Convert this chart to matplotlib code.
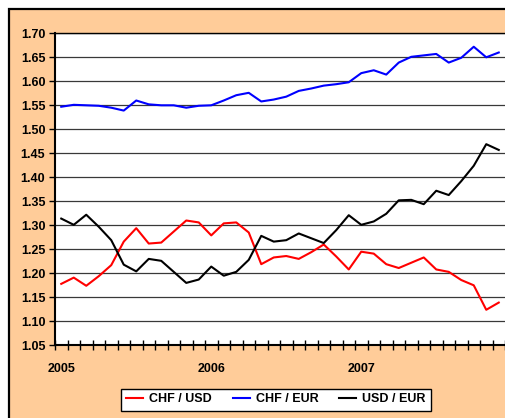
import numpy as np
import matplotlib
matplotlib.use('Agg')
import matplotlib.pyplot as plt
from matplotlib.patches import Rectangle

plt.rcParams['font.family'] = ['Liberation Sans', 'DejaVu Sans']
plt.rcParams['font.weight'] = 'bold'

# monthly values, Jan 2005 .. Dec 2007
months = [f"{y}-{m:02d}" for y in (2005, 2006, 2007) for m in range(1, 13)]
year_labels = ['2005', '2006', '2007']

chf_usd = [1.178, 1.191, 1.174, 1.194, 1.217, 1.266, 1.294, 1.262, 1.264, 1.287, 1.310, 1.306,
           1.279, 1.304, 1.306, 1.285, 1.219, 1.233, 1.236, 1.230, 1.244, 1.260, 1.235, 1.208,
           1.245, 1.241, 1.219, 1.211, 1.222, 1.233, 1.208, 1.203, 1.186, 1.175, 1.124, 1.139]
chf_eur = [1.547, 1.551, 1.550, 1.549, 1.545, 1.539, 1.560, 1.552, 1.550, 1.550, 1.545, 1.549,
           1.550, 1.560, 1.571, 1.576, 1.558, 1.562, 1.568, 1.580, 1.585, 1.591, 1.594, 1.598,
           1.617, 1.623, 1.614, 1.639, 1.651, 1.654, 1.657, 1.639, 1.649, 1.672, 1.650, 1.660]
usd_eur = [1.314, 1.301, 1.322, 1.297, 1.269, 1.218, 1.204, 1.230, 1.226, 1.203, 1.180, 1.187,
           1.214, 1.195, 1.203, 1.228, 1.278, 1.266, 1.269, 1.283, 1.273, 1.263, 1.290, 1.321,
           1.301, 1.308, 1.324, 1.352, 1.353, 1.344, 1.372, 1.363, 1.392, 1.424, 1.469, 1.457]

W, H = 505, 418
fig = plt.figure(figsize=(W / 100, H / 100), dpi=100)
fig.patch.set_facecolor('white')

# peach chart area with black frame (cut off at right and bottom)
bg_ax = fig.add_axes([0, 0, 1, 1], zorder=0)
bg_ax.set_axis_off()
bg_ax.add_patch(Rectangle((9 / W, -0.05), 1.2, (H - 9) / H + 0.05, transform=fig.transFigure,
                          facecolor='#FFCC99', edgecolor='black', linewidth=1.6))

ax = fig.add_axes([55 / W, (H - 345.3) / H, 450 / W, 312 / H], zorder=2)
ax.set_facecolor('white')

x = np.arange(len(months))
ax.plot(x, chf_usd, color='#FF0000', lw=1.5, label='CHF / USD', zorder=3)
ax.plot(x, chf_eur, color='#0000FF', lw=1.5, label='CHF / EUR', zorder=3)
ax.plot(x, usd_eur, color='black', lw=1.5, label='USD / EUR', zorder=3)

ax.set_xlim(-0.5, len(months) - 0.5)
ax.set_ylim(1.05, 1.70)
yt = np.round(np.arange(1.05, 1.7001, 0.05), 2)
ax.set_yticks(yt)
ax.set_yticklabels([f"{v:.2f}" for v in yt], fontsize=9, fontweight='bold')
ax.grid(axis='y', color='#383838', lw=0.9, zorder=1)

ax.set_xticks([0, 12, 24])
ax.set_xticklabels(year_labels, fontsize=9, fontweight='bold')
ax.tick_params(axis='x', which='major', length=0, pad=13)
ax.set_xticks(np.arange(-0.5, len(months), 1), minor=True)
ax.tick_params(axis='x', which='minor', direction='inout', length=7, width=1, color='black')
ax.tick_params(axis='y', direction='out', length=4, width=1, pad=3)

for s in ['left', 'bottom']:
    ax.spines[s].set_linewidth(1.5)
    ax.spines[s].set_color('black')
ax.spines['top'].set_linewidth(1.0)
ax.spines['right'].set_visible(False)

leg = ax.legend(loc='center', bbox_to_anchor=(276 / W, (H - 399.5) / H),
                bbox_transform=fig.transFigure, ncol=3,
                frameon=True, fancybox=False, framealpha=1, fontsize=9, handlelength=1.35,
                handletextpad=0.5, columnspacing=1.65, borderpad=0.4)
leg.get_frame().set_edgecolor('black')
leg.get_frame().set_linewidth(1.0)
for t in leg.get_texts():
    t.set_fontweight('bold')

fig.savefig('out.png', dpi=100)
